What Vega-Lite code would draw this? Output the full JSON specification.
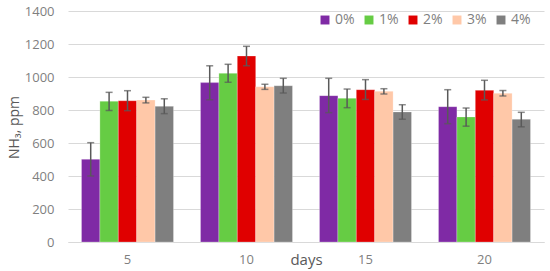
{
  "$schema": "https://vega.github.io/schema/vega-lite/v6.json",
  "width": 476,
  "height": 231,
  "autosize": {"type": "none"},
  "padding": {"left": 68, "top": 11, "right": 6, "bottom": 29},
  "background": "white",
  "config": {
    "view": {"stroke": null},
    "font": "Open Sans",
    "axis": {"labelFont": "Open Sans", "titleFont": "Open Sans", "labelColor": "#7F7F7F", "titleColor": "#595959", "labelFontSize": 13, "titleFontSize": 14, "titleFontWeight": "normal"},
    "axisY": {"title": "NH₃, ppm", "values": [0, 200, 400, 600, 800, 1000, 1200, 1400], "format": "d", "labelOverlap": false, "ticks": false, "domain": false, "gridColor": "#D9D9D9", "labelPadding": 14, "titleX": -54, "titleY": 116, "titleAngle": -90, "titleBaseline": "middle", "titleAlign": "center"},
    "legend": {"labelFont": "Open Sans", "labelFontSize": 14, "labelColor": "#7F7F7F"}
  },
  "data": {
    "values": [
      {"day": "5", "conc": "0%", "value": 501, "lo": 400, "hi": 602},
      {"day": "5", "conc": "1%", "value": 853, "lo": 797, "hi": 907},
      {"day": "5", "conc": "2%", "value": 856, "lo": 796, "hi": 917},
      {"day": "5", "conc": "3%", "value": 860, "lo": 843, "hi": 877},
      {"day": "5", "conc": "4%", "value": 822, "lo": 778, "hi": 868},
      {"day": "10", "conc": "0%", "value": 966, "lo": 862, "hi": 1068},
      {"day": "10", "conc": "1%", "value": 1022, "lo": 968, "hi": 1077},
      {"day": "10", "conc": "2%", "value": 1127, "lo": 1068, "hi": 1186},
      {"day": "10", "conc": "3%", "value": 941, "lo": 925, "hi": 956},
      {"day": "10", "conc": "4%", "value": 947, "lo": 903, "hi": 992},
      {"day": "15", "conc": "0%", "value": 887, "lo": 784, "hi": 992},
      {"day": "15", "conc": "1%", "value": 871, "lo": 814, "hi": 927},
      {"day": "15", "conc": "2%", "value": 923, "lo": 864, "hi": 984},
      {"day": "15", "conc": "3%", "value": 913, "lo": 897, "hi": 929},
      {"day": "15", "conc": "4%", "value": 788, "lo": 744, "hi": 832},
      {"day": "20", "conc": "0%", "value": 820, "lo": 717, "hi": 923},
      {"day": "20", "conc": "1%", "value": 758, "lo": 702, "hi": 812},
      {"day": "20", "conc": "2%", "value": 919, "lo": 861, "hi": 980},
      {"day": "20", "conc": "3%", "value": 901, "lo": 885, "hi": 918},
      {"day": "20", "conc": "4%", "value": 744, "lo": 698, "hi": 786}
    ]
  },
  "encoding": {
    "x": {
      "field": "day", "type": "ordinal", "sort": ["5", "10", "15", "20"],
      "scale": {"paddingInner": 0.227, "paddingOuter": 0.1135},
      "axis": {"title": "days", "labelAngle": 0, "ticks": false, "domainColor": "#D9D9D9", "labelPadding": 11, "titleY": 17, "titleX": 238, "titleBaseline": "middle", "titleFontSize": 15, "labelFontSize": 13}
    },
    "xOffset": {"field": "conc", "type": "nominal", "sort": ["0%", "1%", "2%", "3%", "4%"], "scale": {"paddingInner": 0, "paddingOuter": 0}}
  },
  "layer": [
    {
      "mark": {"type": "bar", "stroke": "white", "strokeOpacity": 0.35, "strokeWidth": 0.7},
      "encoding": {
        "y": {"field": "value", "type": "quantitative", "title": "NH₃, ppm", "scale": {"domain": [0, 1400], "nice": false}},
        "color": {
          "field": "conc", "type": "nominal",
          "scale": {"domain": ["0%", "1%", "2%", "3%", "4%"], "range": ["#7F2AA5", "#66CC44", "#E00000", "#FFC8A8", "#7F7F7F"]},
          "legend": {"title": null, "orient": "none", "direction": "horizontal", "legendX": 250, "legendY": 2, "symbolType": "square", "symbolSize": 80, "symbolStrokeWidth": 0, "labelOffset": 3, "columnPadding": 7}
        }
      }
    },
    {
      "mark": {"type": "rule", "color": "#595959", "strokeWidth": 1.5},
      "encoding": {"y": {"field": "lo", "type": "quantitative", "title": "NH₃, ppm"}, "y2": {"field": "hi"}}
    },
    {
      "mark": {"type": "tick", "color": "#595959", "size": 7, "thickness": 1.5, "orient": "horizontal"},
      "encoding": {"y": {"field": "lo", "type": "quantitative", "title": "NH₃, ppm"}}
    },
    {
      "mark": {"type": "tick", "color": "#595959", "size": 7, "thickness": 1.5, "orient": "horizontal"},
      "encoding": {"y": {"field": "hi", "type": "quantitative", "title": "NH₃, ppm"}}
    }
  ]
}
